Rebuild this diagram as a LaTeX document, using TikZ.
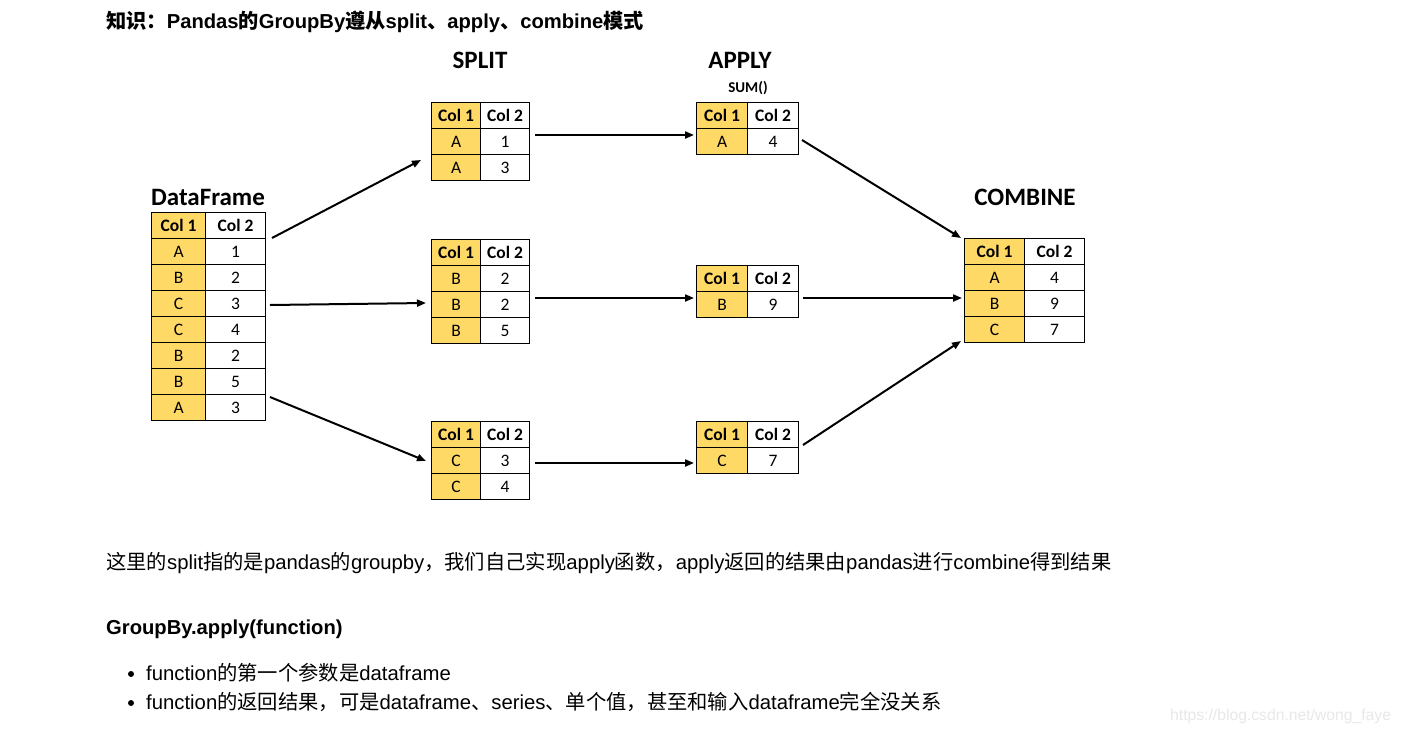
\documentclass[tikz,border=0pt]{standalone}
\usepackage{fontspec}
\setmainfont{Liberation Sans}
\newfontfamily\cjk{Noto Sans CJK SC}
\newfontfamily\calib{Carlito}
\usetikzlibrary{arrows.meta}
\definecolor{gold}{HTML}{FFD966}
\tikzset{
  cell/.style={draw=black, line width=1.2pt, inner sep=0pt, minimum height=26pt, anchor=north west, font=\calib\fontsize{17.5}{20}\selectfont},
  ycell/.style={cell, fill=gold},
  wcell/.style={cell, fill=white},
  ttl/.style={font=\calib\bfseries\fontsize{25}{28}\selectfont},
  flow/.style={line width=2pt, -{Triangle[length=9pt,width=7pt]}},
  txt/.style={anchor=west, inner sep=0pt, font=\fontsize{20.3}{24}\selectfont},
}
\newcommand{\zh}[1]{{\cjk #1}}
% name, x, y, w1, w2, rows
\newcommand{\gtable}[6]{%
  \node[ycell, minimum width=#4] (#1-h1) at (#2,#3) {\bfseries Col 1};
  \node[wcell, minimum width=#5] (#1-h2) at ({#2+#4},#3) {\bfseries Col 2};
  \foreach \a/\b [count=\i] in {#6} {
    \node[ycell, minimum width=#4] (#1-\i a) at (#2,{#3+26*\i}) {\a};
    \node[wcell, minimum width=#5] (#1-\i b) at ({#2+#4},{#3+26*\i}) {\b};
  }
}
\begin{document}
\begin{tikzpicture}[x=1pt,y=-1pt]
\useasboundingbox (0,0) rectangle (1401,734);
\fill[white] (0,0) rectangle (1401,734);

\node[txt, font=\bfseries\fontsize{20.2}{24}\selectfont] (title) at (106,22) {\zh{\bfseries 知识：}Pandas\zh{\bfseries 的}GroupBy\zh{\bfseries 遵从}split\zh{\bfseries 、}apply\zh{\bfseries 、}combine\zh{\bfseries 模式}};

\node[ttl] (tdf) at (208,197) {DataFrame};
\node[ttl] (tsplit) at (480,60) {SPLIT};
\node[ttl] (tapply) at (740,60) {APPLY};
\node[font=\calib\bfseries\fontsize{15}{17}\selectfont] (tsum) at (748,88) {SUM()};
\node[ttl] (tcomb) at (1025,197) {COMBINE};

\gtable{df}{151}{212}{54}{60}{A/1,B/2,C/3,C/4,B/2,B/5,A/3}
\gtable{s1}{431}{102}{49}{49}{A/1,A/3}
\gtable{s2}{431}{239}{49}{49}{B/2,B/2,B/5}
\gtable{s3}{431}{421}{49}{49}{C/3,C/4}
\gtable{a1}{696}{102}{51}{51}{A/4}
\gtable{a2}{696}{265}{51}{51}{B/9}
\gtable{a3}{696}{421}{51}{51}{C/7}
\gtable{cb}{964}{238}{60}{60}{A/4,B/9,C/7}

\coordinate (df-o1) at (272,238);
\coordinate (df-o2) at (270,305);
\coordinate (df-o3) at (270,397);
\coordinate (s1-i) at (421,160);
\coordinate (s2-i) at (426,303);
\coordinate (s3-i) at (426,461);
\coordinate (s1-o) at (535,135);
\coordinate (s2-o) at (535,298);
\coordinate (s3-o) at (535,463);
\coordinate (a1-i) at (694,135);
\coordinate (a2-i) at (694,298);
\coordinate (a3-i) at (694,463);
\coordinate (a1-o) at (802,140);
\coordinate (a2-o) at (803,298);
\coordinate (a3-o) at (803,445);
\coordinate (cb-i1) at (961,238);
\coordinate (cb-i2) at (962,298);
\coordinate (cb-i3) at (961,341);

\draw[flow] (df-o1) -- (s1-i);
\draw[flow] (df-o2) -- (s2-i);
\draw[flow] (df-o3) -- (s3-i);
\draw[flow] (s1-o) -- (a1-i);
\draw[flow] (s2-o) -- (a2-i);
\draw[flow] (s3-o) -- (a3-i);
\draw[flow] (a1-o) -- (cb-i1);
\draw[flow] (a2-o) -- (cb-i2);
\draw[flow] (a3-o) -- (cb-i3);

\node[txt] (p1) at (106,563) {\zh{这里的}split\zh{指的是}pandas\zh{的}groupby\zh{，我们自己实现}apply\zh{函数，}apply\zh{返回的结果由}pandas\zh{进行}combine\zh{得到结果}};
\node[txt, font=\bfseries\fontsize{20.2}{24}\selectfont] (p2) at (106,629) {GroupBy.apply(function)};
\fill (131,674) circle (3pt);
\fill (131,703) circle (3pt);
\node[txt] (b1) at (146,673) {function\zh{的第一个参数是}dataframe};
\node[txt] (b2) at (146,702) {function\zh{的返回结果，可是}dataframe\zh{、}series\zh{、单个值，甚至和输入}dataframe\zh{完全没关系}};
\node[txt, text=black!9, font=\fontsize{15.7}{18}\selectfont] (wm) at (1170,716) {https://blog.csdn.net/wong\_faye};
\end{tikzpicture}
\end{document}
